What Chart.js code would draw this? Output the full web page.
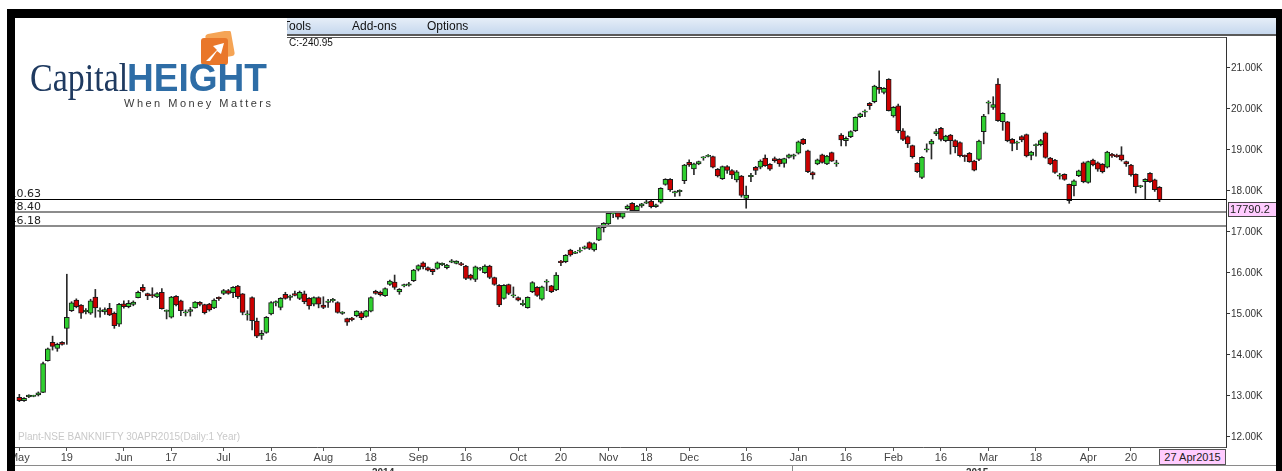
<!DOCTYPE html>
<html>
<head>
<meta charset="utf-8">
<script src="https://cdn.jsdelivr.net/npm/chart.js@4.4.1/dist/chart.umd.min.js"></script>
<style>
  html, body { margin: 0; padding: 0; background: #fff; }
  #wrap { position: relative; width: 1282px; height: 471px; overflow: hidden; font-family: "Liberation Sans", Arial, sans-serif; }
  #chart { position: absolute; left: 0; top: 0; }
  .blk { position: absolute; background: #000; z-index: 5; }
  #menu { position: absolute; left: 287px; top: 18px; width: 989px; height: 16px; background: linear-gradient(#e6eef8, #c6d8ee); border-bottom: 2px solid #5a5a5a; font-size: 12px; color: #111; z-index: 2; }
  #menu span { position: absolute; top: 1px; }
  #info { position: absolute; left: 289px; top: 37px; font-size: 10px; color: #111; z-index: 2; }
  #logo { position: absolute; left: 15px; top: 18px; width: 272px; height: 100px; background: #fff; z-index: 3; }
  #logo .cap { position: absolute; left: 15px; top: 40px; font: 40px/40px "Liberation Serif", "Times New Roman", serif; color: #1f3a60; transform: scaleX(0.85); transform-origin: left top; white-space: nowrap; }
  #logo .hgt { position: absolute; left: 112px; top: 40px; font: bold 39px/39px "Liberation Sans", Arial, sans-serif; color: #2e6da6; transform: scaleX(0.95); transform-origin: left top; white-space: nowrap; }
  #logo .tag { position: absolute; left: 109px; top: 79px; font-size: 11px; letter-spacing: 2.5px; color: #3a3a3a; white-space: nowrap; }
  #logo svg { position: absolute; left: 182px; top: 13px; }
  #wm { position: absolute; left: 18px; top: 431px; font-size: 10px; color: #c9c9c9; z-index: 2; }
  #datebox { position: absolute; left: 1159px; top: 449px; width: 65px; height: 14px; background: #ffccff; border: 1px solid #555; font-size: 11px; line-height: 14px; text-align: center; color: #222; z-index: 2; }
  .yr { position: absolute; top: 467px; font-size: 10px; font-weight: bold; color: #333; z-index: 2; }
  #yrline { position: absolute; left: 15px; top: 465px; width: 1261px; height: 1px; background: #8a8a8a; z-index: 2; }
  #yrsep { position: absolute; left: 792px; top: 465px; width: 1px; height: 6px; background: #8a8a8a; z-index: 2; }
</style>
</head>
<body>
<div id="wrap">
  <canvas id="chart" width="1282" height="471"></canvas>
  <div class="blk" style="left:7px;top:9px;width:1275px;height:9px"></div>
  <div class="blk" style="left:7px;top:9px;width:8px;height:462px"></div>
  <div class="blk" style="left:1276px;top:9px;width:6px;height:462px"></div>
  <div id="menu"><span style="left:-4px">Tools</span><span style="left:65px">Add-ons</span><span style="left:140px">Options</span></div>
  <div id="info">C:-240.95</div>
  <div id="logo">
    <svg width="40" height="36" viewBox="0 0 40 36">
      <rect x="10" y="1" width="26" height="26" rx="3" fill="#f5a455" transform="rotate(-10 23 14)"/>
      <rect x="4" y="7" width="27" height="27" rx="3" fill="#e9772a"/>
      <path d="M9 30 L20 19 L16 15 L27 12 L24 23 L20 20 L13 30 Z" fill="#fff"/>
    </svg>
    <div class="cap">Capital</div>
    <div class="hgt">HEIGHT</div>
    <div class="tag">When Money Matters</div>
  </div>
  <div id="wm">Plant-NSE BANKNIFTY 30APR2015(Daily:1 Year)</div>
  <div id="datebox">27 Apr2015</div>
  <div id="yrline"></div>
  <div id="yrsep"></div>
  <div class="yr" style="left:372px">2014</div>
  <div class="yr" style="left:966px">2015</div>
</div>
<script>
const opens = [
  12968,12886,12976,13000,13024,13090,13860,14310,14160,14310,
  14650,15080,15340,15220,15070,15020,15410,15080,15050,15140,
  15015,14750,15250,15180,15235,15400,15650,15495,15460,15415,
  15530,15075,14920,15430,15320,15040,15060,15150,15285,15230,
  15240,15150,15400,15504,15570,15520,15680,15490,14990,15400,
  14830,14480,14550,15000,15280,15160,15480,15420,15500,15380,
  15490,15380,15240,15400,15220,15300,15340,15280,15030,14890,
  14900,14960,15030,14940,15070,15550,15530,15450,15720,15780,
  15540,15700,15720,15810,16090,16250,16130,16090,16110,16220,
  16130,16280,16235,16220,16170,15950,15845,16110,16010,16170,
  15890,15700,15380,15720,15455,15400,15245,15155,15545,15650,
  15360,15790,15690,15585,16290,16275,16560,16495,16545,16600,
  16740,16560,16800,17105,17195,17455,17470,17360,17570,17700,
  17520,17635,17720,17755,17620,17725,18160,18285,17968,18000,
  18250,18700,18540,18660,18820,18855,18840,18530,18300,18595,
  18500,18270,18365,17820,18350,18580,18580,18800,18650,18790,
  18770,18670,18820,18850,18920,19260,18980,18450,18660,18880,
  18660,18935,18675,19365,19228,19325,19470,19810,19935,20140,
  20180,20530,20405,20725,19830,20080,19470,19325,19105,18675,
  18330,19015,19145,19390,19530,19225,19365,19230,19180,18855,
  18920,18730,18770,19450,20155,20040,20610,19690,19690,19260,
  19180,19325,19375,18870,19120,19130,19420,18800,18755,18375,
  18405,18160,18130,18375,18690,18210,18755,18690,18650,18580,
  18895,18870,18880,18715,18635,18405,18120,18228,18430,18270,
  18090
]
const highs = [
  13040,12960,13030,13020,13100,13830,14170,14460,14290,14330,
  15970,15300,15370,15230,15130,15360,15600,15150,15150,15260,
  15050,15260,15320,15330,15320,15560,15720,15510,15640,15520,
  15620,15100,15430,15450,15340,15100,15160,15300,15300,15240,
  15260,15370,15420,15600,15600,15670,15700,15500,15080,15420,
  14900,14600,14940,15300,15320,15400,15530,15460,15560,15560,
  15560,15400,15420,15420,15420,15360,15380,15300,15060,14900,
  14920,15080,15060,15090,15420,15580,15560,15640,15830,15950,
  15620,15730,15770,16090,16200,16270,16150,16100,16270,16250,
  16210,16330,16300,16260,16190,15970,16170,16140,16200,16190,
  15900,15720,15720,15730,15660,15420,15340,15420,15790,15670,
  15680,15840,15700,16010,16310,16450,16580,16530,16620,16660,
  16760,16740,17120,17230,17480,17480,17490,17500,17660,17720,
  17650,17700,17780,17770,17680,18080,18300,18300,18000,18030,
  18650,18760,18680,18730,18840,18890,18850,18550,18610,18620,
  18520,18500,18380,18120,18430,18600,18760,18880,18670,18830,
  18790,18800,18900,18900,19220,19280,19000,18470,18780,18900,
  18870,18950,18750,19400,19320,19470,19810,19900,19980,20160,
  20580,20930,20520,20740,20060,20120,19520,19350,19120,18690,
  18840,19150,19260,19510,19550,19360,19380,19250,19200,18880,
  18940,18750,19240,19870,20200,20300,20740,19910,19700,19280,
  19220,19350,19390,18970,19150,19260,19440,18820,18770,18430,
  18420,18170,18270,18510,18710,18730,18780,18710,18670,18970,
  18920,18900,19080,18730,18650,18420,18140,18300,18450,18290,
  18110
]
const lows = [
  12862,12870,12960,12980,13000,13080,13850,14120,14090,14240,
  14260,15060,15150,14890,15000,14990,14920,14920,14990,14960,
  14650,14700,15140,15150,15200,15390,15540,15350,15400,15400,
  15120,14880,14900,15200,14960,14950,14950,15140,15200,15000,
  15070,15130,15330,15470,15480,15400,15380,14980,14850,14610,
  14420,14380,14530,14980,15200,15100,15360,15340,15440,15350,
  15250,15120,15200,15150,15130,15160,15290,15020,14990,14720,
  14830,14930,14860,14920,15050,15480,15440,15430,15700,15600,
  15480,15660,15680,15790,16050,16100,16050,15960,16090,16180,
  16100,16250,16220,16180,15840,15830,15790,16060,15990,15860,
  15700,15180,15360,15470,15400,15320,15200,15140,15520,15430,
  15340,15570,15520,15570,16180,16250,16410,16470,16500,16580,
  16570,16530,16790,17000,17180,17350,17310,17330,17540,17490,
  17490,17600,17690,17590,17600,17700,18140,17990,17870,17880,
  18180,18600,18400,18640,18750,18830,18560,18340,18280,18430,
  18300,18220,17850,17580,18230,18400,18540,18600,18500,18700,
  18600,18580,18800,18780,18900,19130,18450,18290,18640,18680,
  18640,18720,18600,19100,19100,19300,19450,19790,19810,19990,
  20150,20380,20370,19950,19800,19420,19230,19060,18800,18450,
  18300,18950,18780,19350,19220,19200,18900,18930,18830,18720,
  18700,18490,18740,19150,19880,19990,19700,19480,19200,18980,
  19010,19200,18830,18760,18850,19100,18800,18640,18430,18290,
  18260,17700,17880,18350,18200,18190,18610,18480,18440,18560,
  18820,18820,18730,18600,18360,17950,18080,17790,18210,17990,
  17740
]
const closes = [
  12886,12943,13024,13005,13080,13790,14150,14210,14260,14260,
  14920,15270,15180,15020,15075,15320,15150,15080,15110,14980,
  14715,15235,15180,15260,15290,15530,15560,15440,15455,15495,
  15130,15080,15415,15220,15080,15040,15110,15290,15235,15030,
  15100,15340,15380,15570,15500,15650,15420,15040,14990,14840,
  14460,14530,14920,15280,15290,15380,15380,15420,15455,15530,
  15300,15195,15400,15240,15160,15300,15340,15040,15030,14800,
  14860,15070,14910,15080,15400,15500,15470,15620,15800,15650,
  15600,15700,15720,16070,16180,16150,16070,16030,16250,16220,
  16195,16280,16290,16210,15870,15870,16150,16110,16170,15890,
  15720,15220,15700,15500,15455,15340,15245,15405,15765,15455,
  15665,15790,15545,15950,16250,16430,16440,16495,16545,16640,
  16600,16720,17105,17210,17455,17455,17360,17470,17635,17520,
  17635,17685,17720,17620,17660,18065,18285,18025,17968,18000,
  18635,18635,18660,18715,18820,18860,18580,18365,18595,18500,
  18390,18470,17890,17900,18380,18500,18730,18620,18530,18740,
  18660,18790,18880,18880,19200,19150,18470,18390,18760,18700,
  18850,18730,18675,19245,19285,19450,19795,19880,19935,20080,
  20560,20480,20505,19960,20040,19470,19260,19150,18840,18470,
  18820,19015,19220,19450,19260,19340,19230,19080,18860,18850,
  18715,18510,19220,19830,20155,20110,19715,19895,19230,19160,
  19180,19245,18855,18950,19120,19230,18820,18660,18455,18375,
  18285,17765,18250,18490,18228,18715,18635,18530,18470,18950,
  18855,18840,18755,18660,18390,18105,18120,18285,18228,18031.15,
  17790.2
]

// x axis: candle index of each date label
const tickIdx = [0, 10, 22, 32, 43, 53, 64, 74, 84, 94, 105, 114, 124, 132, 141, 153, 164, 174, 184, 194, 204, 214, 225, 234]
const tickText = ["May", "19", "Jun", "17", "Jul", "16", "Aug", "18", "Sep", "16", "Oct", "20", "Nov", "18", "Dec", "16", "Jan", "16", "Feb", "16", "Mar", "18", "Apr", "20"]
const yTicks = [12000, 13000, 14000, 15000, 16000, 17000, 18000, 19000, 20000, 21000]

// horizontal levels drawn across the chart
const levels = [17810.63, 17478.40, 17146.18]

const GREEN = "#2fcf2f"
const RED = "#cc0000"

const bodies = opens.map((o, i) => {
  const c = closes[i]
  if (Math.abs(o - c) < 30) {
    const m = (o + c) / 2
    return { x: i, y: [m - 15, m + 15] }
  }
  return { x: i, y: [o, c] }
})
const wicks = lows.map((l, i) => ({ x: i, y: [l, highs[i]] }))

const overlay = {
  id: "overlay",
  afterDatasetsDraw(chart) {
    const { ctx, chartArea, scales } = chart
    const y = scales.y
    ctx.save()
    // top frame line
    ctx.strokeStyle = "#555"
    ctx.lineWidth = 1
    ctx.beginPath()
    ctx.moveTo(chartArea.left, chartArea.top + 0.5)
    ctx.lineTo(chartArea.right, chartArea.top + 0.5)
    ctx.stroke()

    levels.forEach((lv, k) => {
      const py = Math.round(y.getPixelForValue(lv))
      ctx.strokeStyle = k === 0 ? "#000" : "#8c8c8c"
      ctx.lineWidth = k === 0 ? 1 : 2
      ctx.beginPath()
      ctx.moveTo(chartArea.left, py + (k === 0 ? 0.5 : 0))
      ctx.lineTo(chartArea.right, py + (k === 0 ? 0.5 : 0))
      ctx.stroke()
      ctx.save()
      ctx.beginPath()
      ctx.rect(chartArea.left, py - 14, 60, 14)
      ctx.clip()
      ctx.fillStyle = "#222"
      ctx.font = '11px "DejaVu Sans"'
      ctx.textAlign = "right"
      ctx.textBaseline = "alphabetic"
      ctx.fillText(lv.toFixed(2), 41, py - 2)
      ctx.restore()
    })

    // last price box on the price axis
    const last = closes[closes.length - 1]
    const ly = Math.round(y.getPixelForValue(last))
    ctx.fillStyle = "#ffccff"
    ctx.fillRect(chartArea.right + 2, ly + 2, 48, 14)
    ctx.strokeStyle = "#444"
    ctx.lineWidth = 1
    ctx.strokeRect(chartArea.right + 2.5, ly + 2.5, 48, 14)
    ctx.fillStyle = "#222"
    ctx.font = '11px "Liberation Sans"'
    ctx.textAlign = "left"
    ctx.textBaseline = "middle"
    ctx.fillText(String(last), chartArea.right + 4, ly + 10)
    ctx.restore()
  },
}

new Chart(document.getElementById("chart"), {
  type: "bar",
  data: {
    datasets: [
      {
        data: wicks,
        backgroundColor: "#2a2a2a",
        barThickness: 1,
        grouped: false,
        order: 2,
      },
      {
        data: bodies,
        backgroundColor: closes.map((c, i) => (c >= opens[i] ? GREEN : RED)),
        borderColor: "#1a1a1a",
        borderWidth: 1,
        borderSkipped: false,
        barThickness: 5,
        grouped: false,
        order: 1,
      },
    ],
  },
  options: {
    responsive: false,
    animation: false,
    events: [],
    layout: { padding: { left: 14, top: 37, right: 0, bottom: 0 } },
    plugins: { legend: { display: false }, tooltip: { enabled: false } },
    scales: {
      x: {
        type: "linear",
        offset: false,
        min: -1.12,
        max: 254,
        afterBuildTicks: (scale) => {
          scale.ticks = tickIdx.map((v) => ({ value: v }))
        },
        afterFit: (scale) => {
          scale.height = 24
        },
        grid: { display: true, offset: false, drawOnChartArea: false, drawTicks: true, tickLength: 4, color: "#555" },
        border: { display: true, color: "#555" },
        ticks: {
          autoSkip: false,
          maxRotation: 0,
          padding: 0,
          color: "#444",
          font: { family: "Liberation Sans", size: 11 },
          callback: (v) => {
            const k = tickIdx.indexOf(v)
            return k >= 0 ? tickText[k] : ""
          },
        },
      },
      y: {
        position: "right",
        min: 11756,
        max: 21756,
        afterBuildTicks: (scale) => {
          scale.ticks = yTicks.map((v) => ({ value: v }))
        },
        afterFit: (scale) => {
          scale.width = 56
        },
        grid: { display: true, drawOnChartArea: false, drawTicks: true, tickLength: 4, color: "#333" },
        border: { display: true, color: "#333" },
        ticks: {
          padding: 1,
          color: "#333",
          font: { family: "Liberation Sans", size: 10 },
          callback: (v) => `${(v / 1000).toFixed(2)}K`,
        },
      },
    },
  },
  plugins: [overlay],
})
</script>
</body>
</html>
